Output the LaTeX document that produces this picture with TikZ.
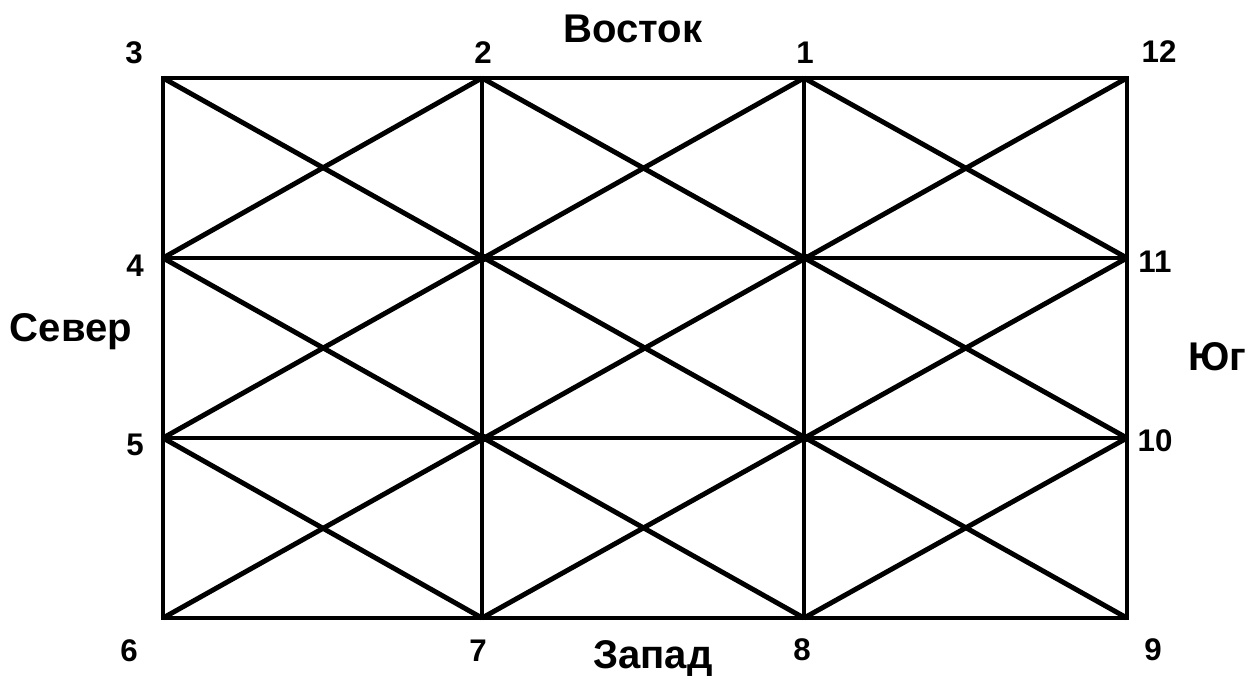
\documentclass[tikz,border=0pt]{standalone}
\usepackage{fontspec}
\setmainfont{Liberation Sans}
\usetikzlibrary{positioning}

\begin{document}
\begin{tikzpicture}[line width=1.4pt,
  num/.style={font=\bfseries\fontsize{8.9}{10}\selectfont},
  side/.style={font=\bfseries\fontsize{11.4}{13}\selectfont}]
  \useasboundingbox (0,0) rectangle (12.56,6.78);
  % узлы сетки
  \coordinate (p3) at (1.63,6.00);  \coordinate (p2) at (4.82,6.00);
  \coordinate (p1) at (8.04,6.00);  \coordinate (p12) at (11.27,6.00);
  \coordinate (p4) at (1.63,4.20);  \coordinate (a1) at (4.82,4.20);
  \coordinate (a2) at (8.04,4.20);  \coordinate (p11) at (11.27,4.20);
  \coordinate (p5) at (1.63,2.40);  \coordinate (b1) at (4.82,2.40);
  \coordinate (b2) at (8.04,2.40);  \coordinate (p10) at (11.27,2.40);
  \coordinate (p6) at (1.63,0.60);  \coordinate (p7) at (4.82,0.60);
  \coordinate (p8) at (8.04,0.60);  \coordinate (p9) at (11.27,0.60);
  % рамка и прямые
  \draw (p3) -- (p12) -- (p9) -- (p6) -- cycle;
  \draw (p4) -- (p11) (p5) -- (p10) (p2) -- (p7) (p1) -- (p8);
  % диагонали
  \draw (p3) -- (p9) (p4) -- (p8) (p5) -- (p7) (p2) -- (p10) (p1) -- (p11);
  \draw (p4) -- (p2) (p5) -- (p1) (p6) -- (p12) (p7) -- (p11) (p8) -- (p10);
  \foreach \p in {a1,a2,b1,b2}
    \fill (\p) circle(0.05);
  % подписи
  \node[num] (n3) at (1.34,6.25){3};
  \node[num] (n2) at (4.83,6.25){2};
  \node[num] (n1) at (8.05,6.25){1};
  \node[num] (n12) at (11.59,6.26){12};
  \node[num] (n4) at (1.35,4.12){4};
  \node[num] (n11) at (11.55,4.16){11};
  \node[num] (n5) at (1.35,2.33){5};
  \node[num] (n10) at (11.55,2.37){10};
  \node[num] (n6) at (1.29,0.27){6};
  \node[num] (n7) at (4.78,0.27){7};
  \node[num] (n8) at (8.02,0.28){8};
  \node[num] (n9) at (11.53,0.28){9};
  \node[side] (vostok) at (6.33,6.49){Восток};
  \node[side,anchor=base] (zapad) at (6.53,0.10){Запад};
  \node[side] (sever) at (0.71,3.46){Север};
  \node[side] (yug) at (12.17,3.21){Юг};
\end{tikzpicture}
\end{document}
